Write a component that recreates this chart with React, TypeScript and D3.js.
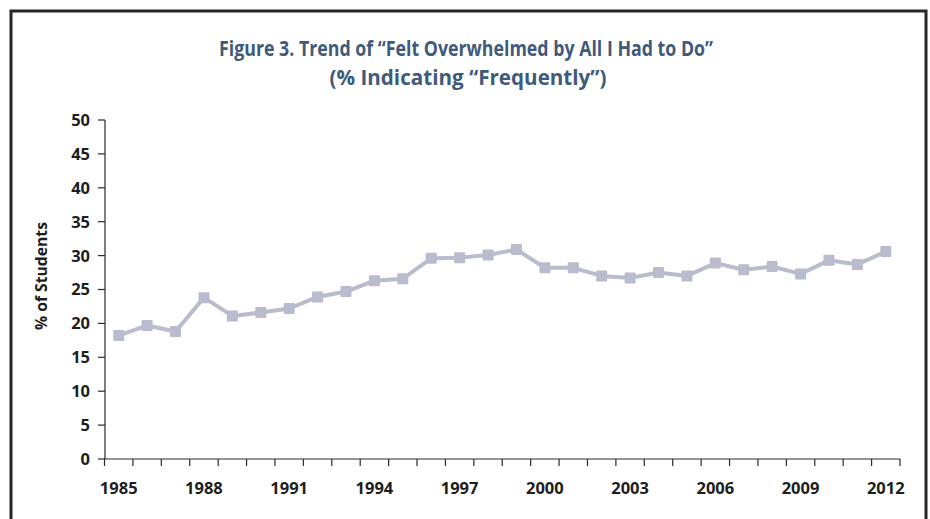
import React from "react";
import * as d3 from "d3";

const years: string[] = [
  "1985","1986","1987","1988","1989","1990","1991","1992","1993","1994",
  "1995","1996","1997","1998","1999","2000","2001","2002","2003","2004",
  "2005","2006","2007","2008","2009","2010","2011","2012",
];
const values: number[] = [
  18.2, 19.7, 18.8, 23.8, 21.1, 21.6, 22.2, 23.9, 24.7, 26.3,
  26.6, 29.6, 29.7, 30.1, 30.9, 28.2, 28.2, 27.0, 26.7, 27.5,
  27.0, 28.9, 27.9, 28.4, 27.3, 29.3, 28.7, 30.6,
];
const xTickLabels: string[] = ["1985","1988","1991","1994","1997","2000","2003","2006","2009","2012"];
const yTicks: number[] = [0, 5, 10, 15, 20, 25, 30, 35, 40, 45, 50];
const titleLines: string[] = [
  "Figure 3. Trend of \u201CFelt Overwhelmed by All I Had to Do\u201D",
  "(% Indicating \u201CFrequently\u201D)",
];
const yLabel = "% of Students";

const W = 930;
const H = 519;
const FONT = "'Open Sans', 'DejaVu Sans', sans-serif";

export default function App() {
  const left = 105;
  const right = 900;
  const top = 120;
  const bottom = 459;
  const x = d3.scaleBand<string>().domain(years).range([left - 0.5, right]).padding(0);
  const y = d3.scaleLinear().domain([0, 50]).range([bottom, top]);
  const line = d3
    .line<number>()
    .x((_, i) => (x(years[i]) as number) + x.bandwidth() / 2)
    .y((d) => y(d));
  const axisColor = "#2b2b2b";
  const bandEdges = years.map((yr) => x(yr) as number).concat([x.range()[1]]);
  const markerSize = 11;

  return (
    <svg
      width={W}
      height={H}
      style={{ position: "absolute", left: 0, top: 0, background: "#fff" }}
      fontFamily={FONT}
    >
      <rect x={0} y={0} width={W} height={H} fill="#fff" />
      <path
        d={`M11,${H + 5} L11,11 L926,11 L926,${H + 5}`}
        fill="none"
        stroke="#262626"
        strokeWidth={3}
      />
      <text
        x={466}
        y={56}
        textAnchor="middle"
        fontSize={21.5}
        fontWeight={700}
        fill="#3f5a7b"
        textLength={494}
        lengthAdjust="spacingAndGlyphs"
      >
        {titleLines[0]}
      </text>
      <text
        x={468}
        y={85}
        textAnchor="middle"
        fontSize={21.5}
        fontWeight={700}
        fill="#3f5a7b"
        textLength={277}
        lengthAdjust="spacingAndGlyphs"
      >
        {titleLines[1]}
      </text>

      {/* y axis */}
      <line x1={left} x2={left} y1={top} y2={bottom} stroke={axisColor} strokeWidth={1.2} />
      {yTicks.map((t) => (
        <g key={t}>
          <line x1={left - 7} x2={left} y1={y(t)} y2={y(t)} stroke={axisColor} strokeWidth={1.2} />
          <text
            x={90}
            y={y(t)}
            dy="0.36em"
            textAnchor="end"
            fontSize={16.5}
            fontWeight={700}
            fill="#1e1e1e"
          >
            {t}
          </text>
        </g>
      ))}
      <text
        transform={`translate(47,276) rotate(-90)`}
        textAnchor="middle"
        fontSize={16.5}
        fontWeight={700}
        fill="#1e1e1e"
        textLength={108}
        lengthAdjust="spacingAndGlyphs"
      >
        {yLabel}
      </text>

      {/* x axis */}
      <line x1={left - 1} x2={right} y1={bottom} y2={bottom} stroke={axisColor} strokeWidth={1.2} />
      {bandEdges.map((e, i) => (
        <line key={i} x1={e} x2={e} y1={bottom} y2={bottom + 7} stroke={axisColor} strokeWidth={1.2} />
      ))}
      {xTickLabels.map((lab) => (
        <text
          key={lab}
          x={(x(lab) as number) + x.bandwidth() / 2}
          y={494}
          textAnchor="middle"
          fontSize={16.5}
          fontWeight={700}
          fill="#1e1e1e"
        >
          {lab}
        </text>
      ))}

      {/* series */}
      <path d={line(values) || ""} fill="none" stroke="#b8bccc" strokeWidth={4} strokeLinejoin="round" />
      {values.map((v, i) => (
        <rect
          key={years[i]}
          x={(x(years[i]) as number) + x.bandwidth() / 2 - markerSize / 2}
          y={y(v) - markerSize / 2}
          width={markerSize}
          height={markerSize}
          rx={1}
          fill="#b8bccc"
        />
      ))}
    </svg>
  );
}
